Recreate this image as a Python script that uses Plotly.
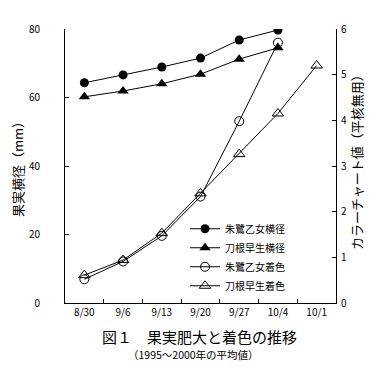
import plotly.graph_objects as go

dates = ["8/30", "9/6", "9/13", "9/20", "9/27", "10/4", "10/1"]
toki_diam = [64.3, 66.6, 68.9, 71.5, 76.8, 79.7]
tone_diam = [60.2, 61.9, 64.0, 66.8, 71.2, 74.5]
toki_color = [0.52, 0.91, 1.47, 2.33, 3.98, 5.70]
tone_color = [0.61, 0.94, 1.53, 2.40, 3.26, 4.15, 5.20]

names = ["朱鷺乙女横径", "刀根早生横径", "朱鷺乙女着色", "刀根早生着色"]

FONT = "Noto Sans CJK JP"
fig = go.Figure()
common = dict(mode="lines+markers", line=dict(color="black", width=1))
fig.add_trace(go.Scatter(x=dates[:len(toki_diam)], y=toki_diam, name=names[0],
                         marker=dict(symbol="circle", size=9, color="black"), **common))
fig.add_trace(go.Scatter(x=dates[:len(tone_diam)], y=tone_diam, name=names[1],
                         marker=dict(symbol="triangle-up", size=10, color="black"), **common))
fig.add_trace(go.Scatter(x=dates[:len(toki_color)], y=toki_color, name=names[2], yaxis="y2",
                         marker=dict(symbol="circle-open", size=9, color="black", line=dict(width=1)), **common))
fig.add_trace(go.Scatter(x=dates[:len(tone_color)], y=tone_color, name=names[3], yaxis="y2",
                         marker=dict(symbol="triangle-up-open", size=10, color="black", line=dict(width=1)), **common))

axfont = dict(family=FONT, size=10, color="black")
fig.update_layout(
    width=376, height=371,
    margin=dict(l=57, r=48, t=17, b=76),
    paper_bgcolor="white", plot_bgcolor="white",
    font=dict(family=FONT, color="black"),
    showlegend=True,
    legend=dict(x=(177 - 57) / 271, y=0.01, xanchor="left", yanchor="bottom",
                font=dict(family=FONT, size=10, color="black"),
                bgcolor="rgba(0,0,0,0)", tracegroupgap=0, itemwidth=30),
    xaxis=dict(type="category", categoryorder="array", categoryarray=dates,
               range=[-0.5, 6.5], tickson="boundaries", ticks="inside", ticklen=4,
               tickcolor="black", showline=True, linecolor="black", linewidth=1,
               showgrid=False, zeroline=False, tickfont=axfont),
    yaxis=dict(range=[0, 80], dtick=20, ticks="inside", ticklen=4, tickcolor="black",
               showline=True, linecolor="black", linewidth=1, showgrid=False,
               zeroline=False, tickfont=axfont, ticklabelstandoff=22,
               title=dict(text="果実横径（mm）", standoff=11,
                          font=dict(family=FONT, size=13, color="black")),
               automargin=False),
    yaxis2=dict(range=[0, 6], dtick=1, overlaying="y", side="right", ticks="inside",
                ticklen=4, tickcolor="black", showline=True, linecolor="black",
                linewidth=1, showgrid=False, zeroline=False, tickfont=axfont,
                ticklabelstandoff=2),
    annotations=[
        dict(text="カラーチャート値（平核無用）", xref="paper", yref="paper",
             x=(348 - 57) / 271, y=(295 - 149) / 278, textangle=-90, showarrow=False,
             xanchor="center", yanchor="middle",
             font=dict(family=FONT, size=13, color="black")),
        dict(text="図１　果実肥大と着色の推移", xref="paper", yref="paper", x=(191 - 57) / 271,
             y=(295 - 329) / 278, showarrow=False, xanchor="center", yanchor="middle",
             font=dict(family=FONT, size=15, color="black")),
        dict(text="（1995～2000年の平均値）", xref="paper", yref="paper", x=(185 - 57) / 271,
             y=(295 - 347) / 278, showarrow=False, xanchor="center", yanchor="middle",
             font=dict(family=FONT, size=10.5, color="black")),
    ],
)

fig.write_html("out.html")
